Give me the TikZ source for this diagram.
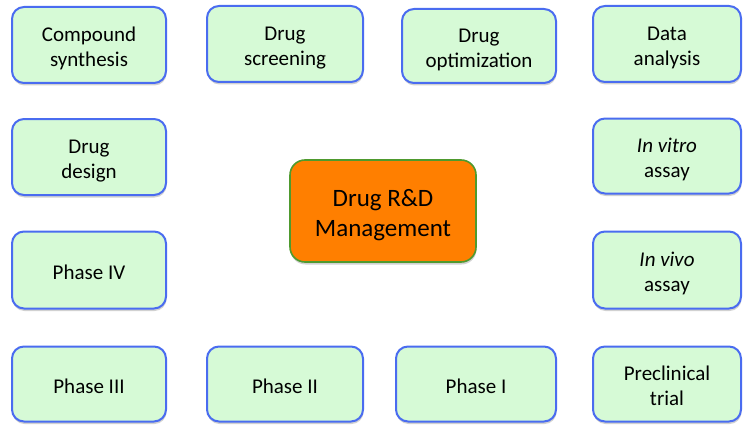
\documentclass[tikz,border=0pt]{standalone}
\usepackage{fontspec}
\setmainfont{Carlito}
\usetikzlibrary{shadows}
\definecolor{boxfill}{HTML}{D6FAD6}
\definecolor{boxline}{HTML}{4A6CF0}
\definecolor{hubfill}{HTML}{FF7F00}
\definecolor{hubline}{HTML}{4E9A2E}
\newcommand\topst{\rule{0pt}{22pt}}
\newcommand\botst{\rule[-4pt]{0pt}{4pt}}
\newcommand\hubtop{\rule{0pt}{25pt}}
\newcommand\hubbot{\rule[-5pt]{0pt}{5pt}}
\tikzset{
  stagebox/.style={draw=boxline, fill=boxfill, line width=2pt, rounded corners=12pt,
    align=center, inner sep=0pt, font=\fontsize{21}{25}\selectfont,
    drop shadow={shadow xshift=0.5pt, shadow yshift=-2.5pt, opacity=0.3, fill=black!60}},
  hubbox/.style={draw=hubline, fill=hubfill, line width=1.6pt, rounded corners=15pt,
    align=center, inner sep=0pt, font=\fontsize{25}{30}\selectfont,
    minimum width=186pt, minimum height=102pt,
    drop shadow={shadow xshift=0.5pt, shadow yshift=-2.5pt, opacity=0.3, fill=black!60}}
}
\begin{document}
\begin{tikzpicture}[x=1pt,y=-1pt]
\useasboundingbox (0,0) rectangle (743,425);
\node[stagebox, minimum width=154pt, minimum height=76pt] (cs) at (89,45) {\topst Compound\\synthesis\botst};
\node[stagebox, minimum width=156pt, minimum height=76pt] (ds) at (285,44) {\topst Drug\\screening\botst};
\node[stagebox, minimum width=154pt, minimum height=74pt] (do) at (479,46) {\topst Drug\\optimization\botst};
\node[stagebox, minimum width=148pt, minimum height=76pt] (da) at (667,44) {\topst Data\\analysis\botst};
\node[stagebox, minimum width=154pt, minimum height=76pt] (dd) at (89,157) {\topst Drug\\design\botst};
\node[stagebox, minimum width=148pt, minimum height=75pt] (vt) at (667,156) {\topst\itshape In vitro\\\upshape assay\botst};
\node[stagebox, minimum width=154pt, minimum height=77pt] (p4) at (89,270) {\topst Phase IV\botst};
\node[stagebox, minimum width=148pt, minimum height=77pt] (vv) at (667,270) {\topst\itshape In vivo\\\upshape assay\botst};
\node[stagebox, minimum width=154pt, minimum height=75pt] (p3) at (89,384) {\topst Phase III\botst};
\node[stagebox, minimum width=156pt, minimum height=75pt] (p2) at (285,384) {\topst Phase II\botst};
\node[stagebox, minimum width=160pt, minimum height=75pt] (p1) at (476,384) {\topst Phase I\botst};
\node[stagebox, minimum width=148pt, minimum height=75pt] (pc) at (667,384) {\topst Preclinical\\trial\botst};
\node[hubbox] (hub) at (383,211) {\hubtop Drug R\&D\\Management\hubbot};
\end{tikzpicture}
\end{document}
